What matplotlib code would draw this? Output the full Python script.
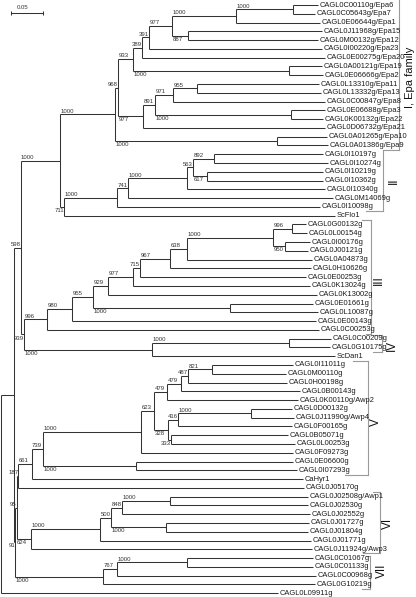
import matplotlib
matplotlib.use("Agg")
import matplotlib.pyplot as plt

plt.rcParams['font.family'] = ['Liberation Sans', 'DejaVu Sans']

# branch lengths (substitutions/site) and bootstrap support (of 1000)
epa_family = (
    "(((((((("
    "CAGL0C00110g/Epa6:0.0387,CAGL0C05643g/Epa7:0.0341)1000:0.0882,"
    "CAGL0E06644g/Epa1:0.1300)1000:0.0991,"
    "(CAGL0J11968g/Epa15:0.2074,CAGL0M00132g/Epa12:0.2012)887:0.0248)977:0.0356,"
    "CAGL0I00220g/Epa23:0.2678)391:0.0108,"
    "CAGL0E00275g/Epa20:0.2833)389:0.0139,"
    "(CAGL0A00121g/Epa19:0.0511,CAGL0E06666g/Epa2:0.0526)1000:0.2415)933:0.0232,"
    "(((("
    "CAGL0L13310g/Epa11:0.1889,CAGL0L13332g/Epa13:0.1920)955:0.0372,"
    "CAGL0C00847g/Epa8:0.2353)971:0.0279,"
    "(CAGL0E06688g/Epa3:0.0526,CAGL0K00132g/Epa22:0.0495)1000:0.2105)891:0.0186,"
    "CAGL0D06732g/Epa21:0.2817)977:0.0387)968:0.0039,"
    "(CAGL0A01265g/Epa10:0.0774,CAGL0A01386g/Epa9:0.0789)1000:0.2500)"
)

clade_ii = (
    "((((("
    "CAGL0I10197g:0.1687,CAGL0I10274g:0.1765)892:0.0325,"
    "(CAGL0I10219g:0.1796,CAGL0I10362g:0.1796)617:0.0217)563:0.0093,"
    "CAGL0I10340g:0.2136)1000:0.0913,"
    "CAGL0M14069g:0.3173)741:0.0170,"
    "CAGL0I10098g:0.3142)"
)

clade_iii = (
    "(((((((((("
    "CAGL0G00132g:0.0217,CAGL0L00154g:0.0232)996:0.0294,"
    "(CAGL0I00176g:0.0387,CAGL0J00121g:0.0356)950:0.0186)1000:0.1331,"
    "CAGL0A04873g:0.1935)638:0.0263,"
    "CAGL0H10626g:0.2183)967:0.0464,"
    "CAGL0E00253g:0.2570)715:0.0108,"
    "CAGL0K13024g:0.2740)977:0.0387,"
    "CAGL0K13002g:0.3235)929:0.0232,"
    "(CAGL0E01661g:0.1285,CAGL0L10087g:0.1362)1000:0.2121)955:0.0325,"
    "CAGL0E00143g:0.3777)980:0.0387,"
    "CAGL0C00253g:0.4211)"
)

clade_iv = "((CAGL0C00209g:0.0650,CAGL0G10175g:0.0635)1000:0.2121,ScDan1:0.2833)"

clade_v = (
    "((((((("
    "CAGL0I11011g:0.1254,CAGL0M00110g:0.1146)821:0.0372,"
    "CAGL0H00198g:0.1533)487:0.0108,"
    "CAGL0B00143g:0.1842)479:0.0217,"
    "CAGL0K00110g/Awp2:0.2028)479:0.0201,"
    "(((CAGL0D00132g:0.0635,CAGL0J11990g/Awp4:0.0666)1000:0.1130,"
    "CAGL0F00165g:0.1765)416:0.0155,"
    "(CAGL0B05071g:0.1811,CAGL0L00253g:0.1920)333:0.0046)328:0.0217)623:0.0201,"
    "CAGL0F09273g:0.2353)1000:0.1517,"
    "(CAGL0E06600g:0.2430,CAGL0I07293g:0.2492)1000:0.1440)"
)

clade_vi = (
    "((((("
    "CAGL0J02508g/Awp1:0.2136,CAGL0J02530g:0.2136)1000:0.0743,"
    "CAGL0J02552g:0.2910)848:0.0170,"
    "(CAGL0J01727g:0.2214,CAGL0J01804g:0.2198)1000:0.0851)500:0.0170,"
    "CAGL0J01771g:0.3266)1000:0.1068,"
    "CAGL0J11924g/Awp3:0.4350)"
)

clade_vii = ("(((CAGL0C01067g:0.1950,CAGL0C01133g:0.1950)1000:0.1084,"
             "CAGL0C00968g:0.3081)767:0.0217,CAGL0G10219g:0.3282)")

tree = (
    f"(((({epa_family}1000:0.0859,({clade_ii}1000:0.0820,ScFlo1:0.4195)711:0.0062)1000:0.0608,"
    f"({clade_iii}996:0.0356,{clade_iv}1000:0.1981)939:0.0051)598:0.0104,"
    f"(((({clade_v}739:0.0175,CaHyr1:0.4200)661:0.0207,CAGL0J05170g:0.4423)187:0.0028,"
    f"{clade_vi}624:0.0224)95:0.0019,{clade_vii}1000:0.1358)91:0.0020):0.0201,"
    f"CAGL0L09911g:0.4288);"
)

group_names = ["I, Epa family", "II", "III", "IV", "V", "VI", "VII"]
group_spans = [(-0.6, 16.5), (16.5, 23.5), (24.5, 37.45), (37.6, 39.5),
               (40.5, 53.5), (55.5, 62.4), (62.75, 66.5)]
bracket_right = [0.6161, 0.5913, 0.5728, 0.5898, 0.5681, 0.5867, 0.5712]
bracket_top_left = [None, 0.5913, 0.5588, 0.5759, 0.5449, 0.5759, 0.5650]
bracket_bot_left = [0.5913, 0.5650, 0.5650, 0.5759, 0.5325, 0.5604, 0.5588]
group_label_pos = [(0.6331, 8.2), (0.6084, 20.0), (0.5851, 31.3), (0.6045, 38.8),
                   (0.5805, 47.5), (0.5991, 59.1), (0.5898, 64.5)]


def parse_newick(s):
    pos = 0

    def node():
        nonlocal pos
        children = []
        if s[pos] == '(':
            pos += 1
            children.append(node())
            while s[pos] == ',':
                pos += 1
                children.append(node())
            pos += 1
        start = pos
        while s[pos] not in ',():;':
            pos += 1
        name = s[start:pos]
        length = 0.0
        if s[pos] == ':':
            pos += 1
            start = pos
            while s[pos] not in ',();':
                pos += 1
            length = float(s[start:pos])
        return {'name': name, 'length': length, 'children': children}

    return node()


root = parse_newick(tree)
leaf_count = [0]


def layout(n, x0):
    n['x'] = x0 + n['length']
    if n['children']:
        for c in n['children']:
            layout(c, n['x'])
        n['y'] = (n['children'][0]['y'] + n['children'][-1]['y']) / 2
    else:
        n['y'] = leaf_count[0]
        leaf_count[0] += 1


layout(root, 0.0)

px = 0.05 / 32.3          # one pixel in substitution units
fig = plt.figure(figsize=(4.16, 5.97), dpi=100)
ax = fig.add_axes([0, 0, 1, 1])
ax.set_xlim(-1 * px, 415 * px)
ax.set_ylim(67.43, -0.57)
ax.axis('off')

line_col = '#333333'
hx0, hx1, hy, vx, vy0, vy1 = [], [], [], [], [], []


def draw(n):
    if not n['children']:
        ax.text(n['x'] + 1.5 * px, n['y'], n['name'], fontsize=5.4,
                va='center', ha='left', color='#1a1a1a')
        return
    vx.append(n['x'])
    vy0.append(n['children'][0]['y'])
    vy1.append(n['children'][-1]['y'])
    for i, c in enumerate(n['children']):
        hx0.append(n['x'])
        hx1.append(c['x'])
        hy.append(c['y'])
        if c['children'] and c['name']:
            w = 3.33 * len(c['name']) * px
            xr = min(n['x'] + w + 0.5 * px, c['x'])
            if i == 0:
                ax.text(xr, c['y'] - 0.08, c['name'], fontsize=4.3,
                        ha='right', va='bottom', color='#333333')
            else:
                ax.text(xr, c['y'] + 0.12, c['name'], fontsize=4.3,
                        ha='right', va='top', color='#333333')
        draw(c)


draw(root)
ax.hlines(hy, hx0, hx1, color=line_col, lw=0.75)
ax.vlines(vx, vy0, vy1, color=line_col, lw=0.75)

# group brackets
br_col = '#9a9a9a'
for name, (y0, y1), xr, xt, xb, (lx, ly) in zip(group_names, group_spans, bracket_right,
                                                 bracket_top_left, bracket_bot_left,
                                                 group_label_pos):
    ax.plot([xr, xr], [y0, y1], color=br_col, lw=0.8)
    if xt is not None:
        ax.plot([xt, xr], [y0, y0], color=br_col, lw=0.8)
    ax.plot([xb, xr], [y1, y1], color=br_col, lw=0.8)
    fs = 8 if name.startswith('I,') else 8.5
    ax.text(lx, ly, name, rotation=90, fontsize=fs, ha='center', va='center',
            color='#111111')

# scale bar
sb_x, sb_y, sb_len = 10 * px, 0.88, 0.05
ax.plot([sb_x, sb_x + sb_len], [sb_y, sb_y], color=line_col, lw=0.75)
ax.vlines([sb_x, sb_x + sb_len], sb_y - 0.23, sb_y + 0.23, color=line_col, lw=0.75)
ax.text(sb_x + 0.018, sb_y - 0.3, "0.05", fontsize=4.3, ha='center', va='bottom',
        color='#333333')

fig.savefig("out.png", dpi=100)
